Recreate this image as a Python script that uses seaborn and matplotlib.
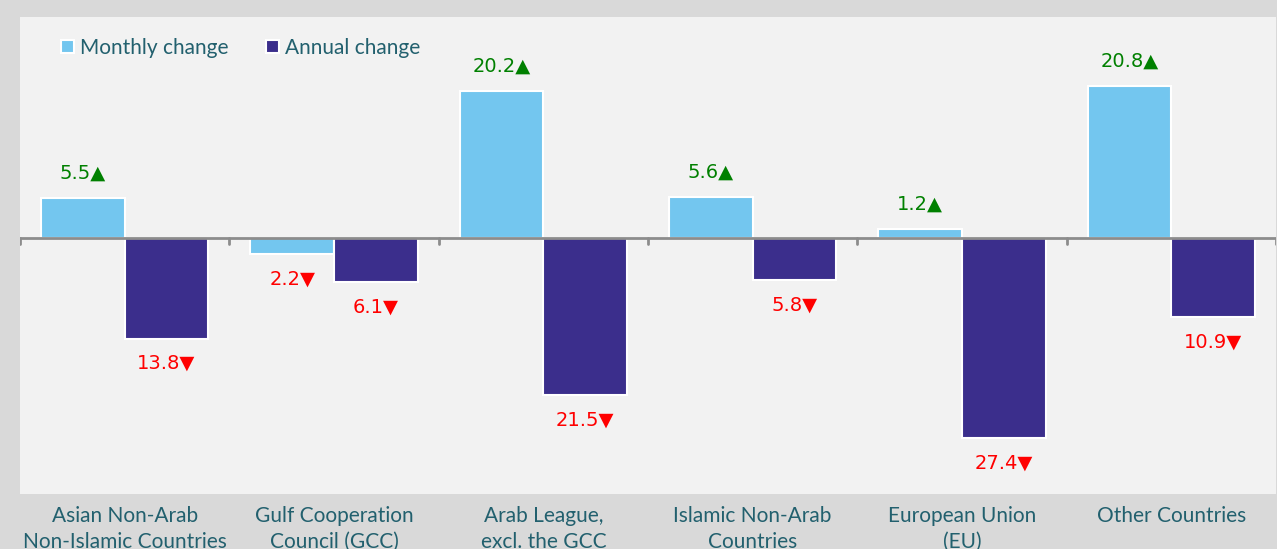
import matplotlib
matplotlib.use("Agg")
import matplotlib.pyplot as plt
import seaborn as sns
import pandas as pd

# chart data
categories = ["Asian Non-Arab\nNon-Islamic Countries", "Gulf Cooperation\nCouncil (GCC)",
              "Arab League,\nexcl. the GCC", "Islamic Non-Arab\nCountries",
              "European Union\n(EU)", "Other Countries"]
monthly = [5.5, -2.2, 20.2, 5.6, 1.2, 20.8]
annual = [-13.8, -6.1, -21.5, -5.8, -27.4, -10.9]
series = ["Monthly change", "Annual change"]

df = pd.DataFrame({
    "Category": categories * 2,
    "Series": [series[0]] * len(categories) + [series[1]] * len(categories),
    "Value": monthly + annual,
})

sns.set_theme(style="white")
plt.rcParams["font.family"] = ["Lato", "DejaVu Sans"]

text_col = "#22606e"
fig = plt.figure(figsize=(12.77, 5.49), dpi=100, facecolor="#d9d9d9")
ax = fig.add_axes([20 / 1277, 55 / 549, 1256 / 1277, 477 / 549])
ax.set_facecolor("#f2f2f2")

sns.barplot(data=df, x="Category", y="Value", hue="Series", order=categories,
            hue_order=series, palette=["#73c6ef", "#3b2e8c"], width=0.8,
            edgecolor="white", linewidth=1.5, saturation=1, ax=ax)

# value labels
for bars in ax.containers:
    for b in bars:
        v = b.get_height()
        x = b.get_x() + b.get_width() / 2
        if v >= 0:
            ax.annotate(f"{abs(v):.1f}\u25b2", (x, v), xytext=(0, 18), textcoords="offset points",
                        ha="center", va="center", color="#008000", fontsize=14,
                        family=["DejaVu Sans"])
        else:
            ax.annotate(f"{abs(v):.1f}\u25bc", (x, v), xytext=(0, -18), textcoords="offset points",
                        ha="center", va="center", color="#ff0000", fontsize=14,
                        family=["DejaVu Sans"])

# zero line with category boundary ticks
ax.axhline(0, color="#8c8c8c", lw=2, zorder=3)
for i in range(len(categories) + 1):
    ax.plot([i - 0.5, i - 0.5], [0, -0.8], color="#8c8c8c", lw=2, zorder=3)

ax.set_xlim(-0.5, len(categories) - 0.5)
ax.set_ylim(-35.1, 30.3)
ax.set_yticks([])
ax.set_xlabel("")
ax.set_ylabel("")
ax.tick_params(axis="x", length=0, pad=9, labelsize=15, labelcolor=text_col)
for t in ax.get_xticklabels():
    t.set_linespacing(1.35)
for s in ax.spines.values():
    s.set_visible(False)

leg = ax.legend(loc="upper left", bbox_to_anchor=(0.018, 0.995), ncol=2, frameon=False,
                fontsize=15, handlelength=0.6, handleheight=0.6, handletextpad=0.3,
                columnspacing=1.8)
for t in leg.get_texts():
    t.set_color(text_col)

fig.savefig("out.png", dpi=100, facecolor=fig.get_facecolor())
